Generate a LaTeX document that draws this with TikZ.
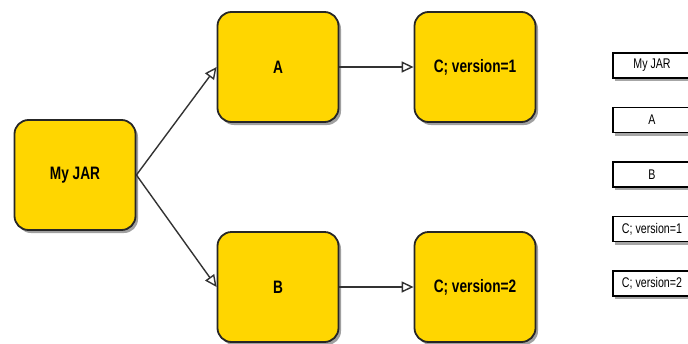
\documentclass[tikz,border=0pt]{standalone}
\usepackage{fontspec}
\usepackage{tikz}
\usetikzlibrary{arrows.meta,shadows}
\newfontfamily\jarfont[FakeStretch=0.76]{Liberation Sans}
\definecolor{jaryellow}{RGB}{255,214,0}

\begin{document}
\begin{tikzpicture}[
                    x=1pt, y=-1pt,
                    node distance=197pt,
                    jar/.style={
                        rectangle,
                        rounded corners=14pt,
                        draw=black!85,
                        line width=1.8pt,
                        fill=jaryellow,
                        minimum width=121pt,
                        minimum height=110pt,
                        font=\jarfont\bfseries\fontsize{18}{20}\selectfont,
                        drop shadow={shadow xshift=2.5pt, shadow yshift=-3pt, opacity=0.75}
                    },
                    legend/.style={
                        rectangle,
                        draw=black,
                        line width=1.4pt,
                        fill=white,
                        minimum width=78pt,
                        minimum height=25pt,
                        inner sep=1pt,
                        font=\jarfont\fontsize{14}{16}\selectfont,
                        drop shadow={shadow xshift=2pt, shadow yshift=-3pt, opacity=0.7}
                    },
                    uses/.style={
                        draw=black!80,
                        line width=1.4pt,
                        -{Triangle[open, length=12pt, width=11pt, line width=1.4pt]}
                    }
                ]
                    \clip (0,0) rectangle (688,343);

                    \node[jar] (myjar) at (75,175) {My JAR};
                    \node[jar] (a) at (278,67) {A};
                    \node[jar] (b) at (278,287) {B};
                    \node[jar] (cone) [right of=a] {C; version=1};
                    \node[jar] (ctwo) [right of=b] {C; version=2};

                    % Legend
                    \node[legend] (lmyjar) at (652,65.5) {My JAR};
                    \node[legend, node distance=54.5pt] (la) [below of=lmyjar] {A};
                    \node[legend, node distance=54.5pt] (lb) [below of=la] {B};
                    \node[legend, node distance=54.5pt] (lcone) [below of=lb] {C; version=1};
                    \node[legend, node distance=54.5pt] (lctwo) [below of=lcone] {C; version=2};

                    % Edges
                    \draw[uses] (myjar.east) -- (a.west);
                    \draw[uses] (myjar.east) -- (b.west);
                    \draw[uses] (a) -- (cone);
                    \draw[uses] (b) -- (ctwo);
                \end{tikzpicture}
\end{document}
